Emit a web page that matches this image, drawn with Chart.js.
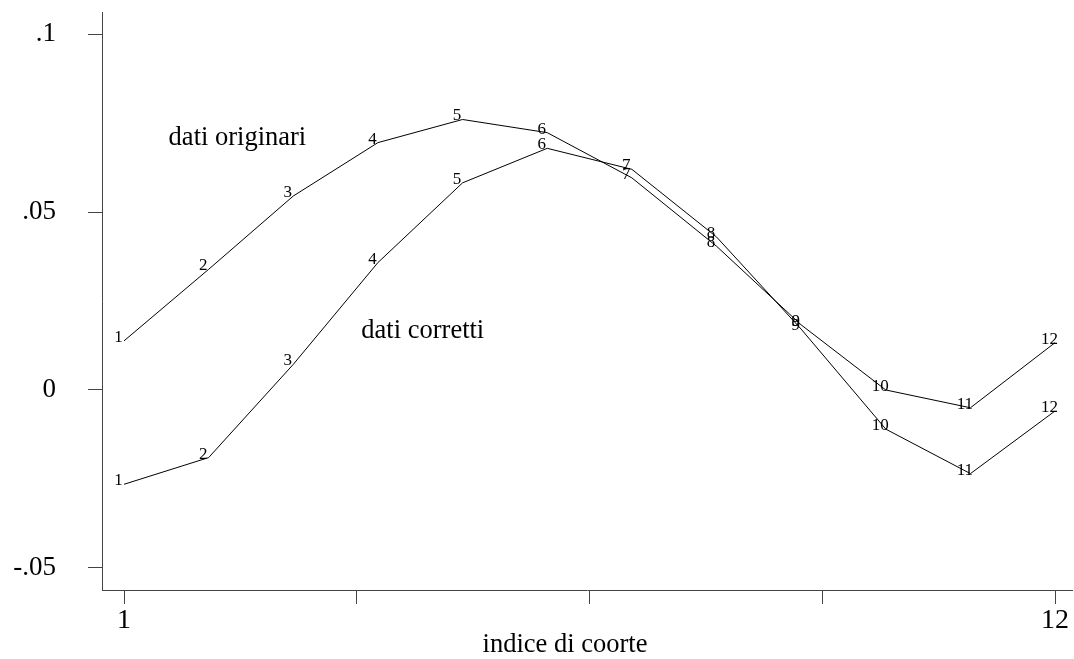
<!DOCTYPE html>
<html>
<head>
<meta charset="utf-8">
<script src="https://cdn.jsdelivr.net/npm/chart.js@4"></script>
<style>
  html, body { margin: 0; padding: 0; background: #fff; }
  #wrap { width: 1074px; height: 659px; }
</style>
</head>
<body>
<div id="wrap"><canvas id="cohortChart" width="1074" height="659"></canvas></div>
<script>
// data
const cohort = [1, 2, 3, 4, 5, 6, 7, 8, 9, 10, 11, 12];
const datiOriginari = [0.0138, 0.0339, 0.0545, 0.0695, 0.0760, 0.0723, 0.0596, 0.0404, 0.0183, 0.0000, -0.0050, 0.0133];
const datiCorretti = [-0.0265, -0.0190, 0.0072, 0.0358, 0.0582, 0.0679, 0.0620, 0.0430, 0.0171, -0.0110, -0.0235, -0.0059];
const xTicks = [1, 3.75, 6.5, 9.25, 12];
const xTickLabels = ['1', '', '', '', '12'];
const yTicks = [-0.05, 0, 0.05, 0.1];
const yTickLabels = ['-.05', '0', '.05', '.1'];

const serif = "'Liberation Serif', 'DejaVu Serif', serif";
const axisColor = '#444';

function toPoints(values) {
    return cohort.map((c, i) => ({ x: c, y: values[i] }));
}

// marker labels (cohort index) + text notes
const labelPlugin = {
    id: 'labelPlugin',
    afterDatasetsDraw(chart) {
        const ctx = chart.ctx;
        const xs = chart.scales.x, ys = chart.scales.y;
        ctx.save();
        ctx.fillStyle = '#000';
        ctx.font = '17px ' + serif;
        ctx.textAlign = 'center';
        ctx.textBaseline = 'middle';
        chart.data.datasets.forEach((ds, di) => {
            chart.getDatasetMeta(di).data.forEach((pt, i) => {
                ctx.fillText(String(cohort[i]), pt.x - 5.5, pt.y - 3.5);
            });
        });

        ctx.font = '26.5px ' + serif;
        ctx.textBaseline = 'alphabetic';
        ctx.fillText('dati originari', xs.getPixelForValue(2.34), ys.getPixelForValue(0.0687));
        ctx.fillText('dati corretti', xs.getPixelForValue(4.53), ys.getPixelForValue(0.0147));

        ctx.font = '26.5px ' + serif;
        ctx.fillText('indice di coorte', 565, 652);
        ctx.restore();
    }
};

const ctx = document.getElementById('cohortChart').getContext('2d');
new Chart(ctx, {
    type: 'line',
    data: {
        datasets: [
            {
                label: 'dati originari',
                data: toPoints(datiOriginari),
                borderColor: '#000',
                borderWidth: 1,
                pointRadius: 0,
                tension: 0,
                fill: false
            },
            {
                label: 'dati corretti',
                data: toPoints(datiCorretti),
                borderColor: '#000',
                borderWidth: 1,
                pointRadius: 0,
                tension: 0,
                fill: false
            }
        ]
    },
    options: {
        responsive: false,
        animation: false,
        layout: { padding: { top: 12, right: 2, left: 0, bottom: 0 } },
        plugins: {
            legend: { display: false },
            tooltip: { enabled: false }
        },
        scales: {
            x: {
                type: 'linear',
                min: 0.74,
                max: 12.2,
                afterBuildTicks(scale) {
                    scale.ticks = xTicks.map(v => ({ value: v }));
                },
                afterFit(scale) {
                    scale.height = 69;
                    scale.paddingLeft = 0;
                    scale.paddingRight = 0;
                },
                grid: {
                    drawOnChartArea: false,
                    drawTicks: true,
                    tickLength: 14,
                    color: axisColor
                },
                border: { display: true, color: axisColor, width: 1 },
                ticks: {
                    autoSkip: false,
                    maxRotation: 0,
                    padding: 0,
                    color: '#000',
                    font: { family: serif, size: 28 },
                    callback: (v) => xTickLabels[xTicks.indexOf(v)] || ''
                }
            },
            y: {
                min: -0.0562,
                max: 0.1062,
                afterBuildTicks(scale) {
                    scale.ticks = yTicks.map(v => ({ value: v }));
                },
                afterFit(scale) {
                    scale.width = 102;
                    scale.paddingTop = 0;
                    scale.paddingBottom = 0;
                },
                grid: {
                    drawOnChartArea: false,
                    drawTicks: true,
                    tickLength: 14,
                    color: axisColor
                },
                border: { display: true, color: axisColor, width: 1 },
                ticks: {
                    padding: 32,
                    color: '#000',
                    font: { family: serif, size: 27 },
                    callback: (v) => {
                        const i = yTicks.findIndex(t => Math.abs(t - v) < 1e-9);
                        return i >= 0 ? yTickLabels[i] : '';
                    }
                }
            }
        }
    },
    plugins: [labelPlugin]
});
</script>
</body>
</html>
